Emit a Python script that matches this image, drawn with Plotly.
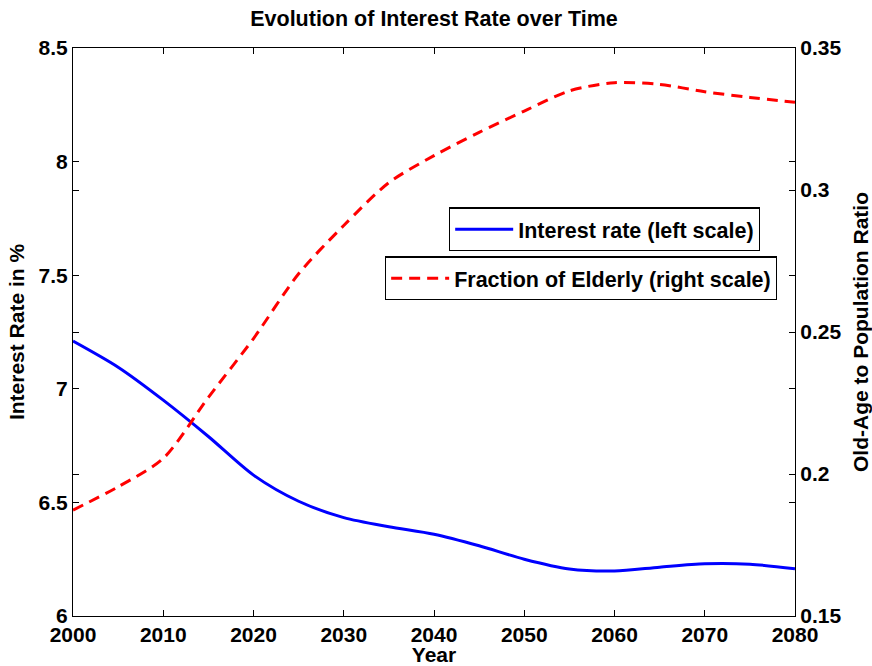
import plotly.graph_objects as go

years = [2000, 2005, 2010, 2015, 2020, 2025, 2030, 2035, 2040, 2045,
         2050, 2055, 2060, 2065, 2070, 2075, 2080]
interest_rate = [7.21, 7.095, 6.95, 6.79, 6.62, 6.505, 6.433, 6.393, 6.36, 6.309,
                 6.25, 6.207, 6.198, 6.215, 6.23, 6.228, 6.208]
elderly_ratio = [0.1873, 0.1955, 0.2055, 0.227, 0.2477, 0.2705, 0.2875, 0.3026, 0.3121, 0.3203,
                 0.3278, 0.3349, 0.3378, 0.3372, 0.3346, 0.3326, 0.3309]

x_ticks = [2000, 2010, 2020, 2030, 2040, 2050, 2060, 2070, 2080]
left_ticks = [6, 6.5, 7, 7.5, 8, 8.5]
left_tick_labels = ["6", "6.5", "7", "7.5", "8", "8.5"]
right_ticks = [0.15, 0.2, 0.25, 0.3, 0.35]
right_tick_labels = ["0.15", "0.2", "0.25", "0.3", "0.35"]

FONT = "Liberation Sans, Arial, Helvetica, sans-serif"
FS = 21

fig = go.Figure()
fig.add_trace(go.Scatter(
    x=years, y=interest_rate, mode="lines", name="Interest rate (left scale)",
    line=dict(color="#0000FF", width=3, shape="spline", smoothing=0.8),
    legend="legend", yaxis="y", showlegend=True))
fig.add_trace(go.Scatter(
    x=years, y=elderly_ratio, mode="lines", name="Fraction of Elderly (right scale)",
    line=dict(color="#FF0000", width=3, dash="11px,7px", shape="spline", smoothing=0.8),
    legend="legend2", yaxis="y2", showlegend=True))

axis_common = dict(showline=True, linecolor="black", linewidth=1.2, ticks="inside",
                   ticklen=6, tickcolor="black", showgrid=False, zeroline=False,
                   automargin=False,
                   tickfont=dict(family=FONT, size=FS, color="black", weight="bold"))

legend_common = dict(xanchor="right", yanchor="top", bgcolor="white",
                     bordercolor="black", borderwidth=1.2, itemwidth=58,
                     font=dict(family=FONT, size=21.5, color="black", weight="bold"))

fig.update_layout(
    width=872, height=666,
    margin=dict(l=73, r=77, t=48, b=50),
    paper_bgcolor="white", plot_bgcolor="white",
    showlegend=True,
    font=dict(family=FONT, size=FS, color="black"),
    title=dict(text="Evolution of Interest Rate over Time", x=0.5, xref="paper",
               y=1 - 18 / 666, yref="container", yanchor="middle", xanchor="center",
               font=dict(family=FONT, size=21.5, color="black", weight="bold")),
    xaxis=dict(range=[2000, 2080], tickvals=x_ticks, ticktext=[str(v) for v in x_ticks],
               mirror="ticks",
               title=dict(text="Year", standoff=2,
                          font=dict(family=FONT, size=FS, color="black", weight="bold")),
               **axis_common),
    yaxis=dict(range=[6, 8.5], tickvals=left_ticks, ticktext=left_tick_labels,
               mirror="ticks",
               title=dict(text="Interest Rate in %", standoff=8,
                          font=dict(family=FONT, size=FS, color="black", weight="bold")),
               **axis_common),
    yaxis2=dict(range=[0.15, 0.35], tickvals=right_ticks, ticktext=right_tick_labels,
                overlaying="y", side="right", mirror="ticks",
                title=dict(text="Old-Age to Population Ratio", standoff=14,
                           font=dict(family=FONT, size=FS, color="black", weight="bold")),
                **axis_common),
    legend=dict(x=0.9515, y=0.7192, **legend_common),
    legend2=dict(x=0.975, y=0.633, **legend_common),
)

fig.write_html("out.html", config={"displayModeBar": False},
               post_script="document.body.style.margin='0px';document.body.style.overflow='hidden';")
